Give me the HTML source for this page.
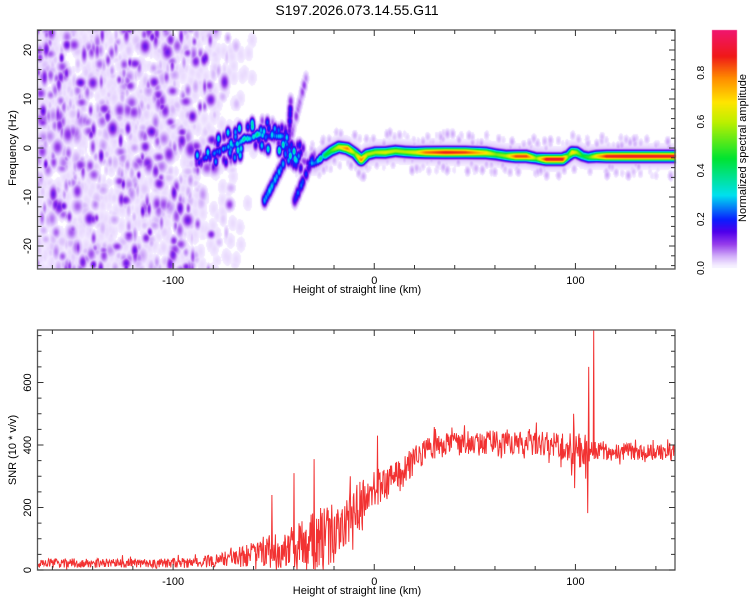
<!DOCTYPE html>
<html><head><meta charset="utf-8"><style>
html,body{margin:0;padding:0;background:#fff;}
#root{position:relative;width:750px;height:600px;font-family:"Liberation Sans",sans-serif;}
canvas,svg{position:absolute;left:0;top:0;}
</style></head><body>
<div id="root">
<canvas id="hm" width="750" height="600"></canvas>
<svg id="sv" width="750" height="600"></svg>
</div>
<script>
// ---- data ----
const ridgeKm=[-88,-85,-82,-78,-75,-72,-68,-65,-62,-58,-55,-50,-46,-43,-40,-36,-33,-30,-27,-22,-18,-14,-10,-7,-4,0,5,10,15,20,25,35,45,55,60,65,70,75,80,85,90,93,96,98,100,103,106,110,115,125,135,149];
const ridgeHz=[-3,-2,-1.5,-0.5,0,0.5,1,2,2,3,2.5,2.5,2.5,0,-1,-2.5,-3,-3,-2,-0.5,0.3,0,-1,-2.3,-1.2,-0.8,-0.8,-0.5,-0.7,-0.8,-0.8,-0.8,-0.8,-0.9,-1.2,-1.5,-1.6,-1.6,-2.0,-2.2,-2.2,-2.2,-1.5,-0.8,-0.8,-1.5,-1.8,-1.6,-1.6,-1.6,-1.6,-1.6];
const ridgeAmp=[0.15,0.3,0.2,0.3,0.25,0.35,0.3,0.4,0.3,0.4,0.25,0.25,0.3,0.2,0.05,0.1,0.25,0.3,0.4,0.5,0.65,0.8,0.55,0.8,0.6,0.6,0.65,0.6,0.6,0.65,0.8,0.88,0.85,0.7,0.55,0.6,0.85,0.85,0.55,0.9,0.9,0.9,0.5,0.7,0.6,0.45,0.5,0.7,0.88,0.9,0.9,0.9];
const streakKm0=[-55,-45,-40,-43], streakHz0=[-10.6,-2.5,-10.6,0];
const streakKm1=[-45,-34,-30,-42], streakHz1=[-2.5,15,-1,10];
const streakAmp=[0.22,0.08,0.18,0.14];
const snrKm=[-168,-100,-85,-75,-65,-55,-45,-35,-25,-15,-5,0,5,10,15,20,25,30,40,50,60,70,80,90,95,100,104,110,120,130,140,150];
const snrMean=[22,22,25,35,45,60,60,80,100,150,230,260,270,300,320,350,380,395,405,410,410,410,405,400,395,390,385,385,380,380,375,370];
const snrSpread=[15,15,18,25,35,50,60,90,100,85,70,65,55,50,45,45,40,40,40,40,40,40,40,40,45,60,60,30,28,28,28,28];
const spikeKm=[-51,-40,-30,-20,-12,1.5,99,99.5,106,106.5,109];
const spikeVal=[240,310,355,160,300,430,500,262,182,650,770];
const xTicks=[-160,-140,-120,-100,-80,-60,-40,-20,0,20,40,60,80,100,120,140];
const xLabels=[-100,0,100];
const fLabels=[-20,-10,0,10,20];
const snrLabels=[0,200,400,600];
const cbLabels=[0,0.2,0.4,0.6,0.8];

// ---- scales ----
const X0=37.5,X1=675,KM0=-167.4,KM1=149.5;
const xs=k=>X0+(k-KM0)/(KM1-KM0)*(X1-X0);
const T0=30,T1=269; const fy=f=>148-f*4.9;
const B0=330,B1=570; const sy=v=>570-v*0.3125;
const interp=(ks,vs,k)=>{if(k<=ks[0])return vs[0];for(let i=1;i<ks.length;i++){if(k<=ks[i]){const t=(k-ks[i-1])/(ks[i]-ks[i-1]);return vs[i-1]+t*(vs[i]-vs[i-1]);}}return vs[vs.length-1];};
const h=i=>{const x=Math.sin(i*127.1+311.7)*43758.5453;return x-Math.floor(x);};

const cstops=[[0,255,255,255],[0.02,238,226,255],[0.05,210,175,250],[0.1,150,60,235],[0.15,80,0,235],[0.2,10,30,255],[0.3,0,225,240],[0.45,0,228,50],[0.6,190,240,0],[0.68,255,230,0],[0.78,255,140,0],[0.87,240,25,25],[1,240,20,130]];
function cmap(v){for(let i=1;i<cstops.length;i++){if(v<=cstops[i][0]){const a=cstops[i-1],b=cstops[i],t=(v-a[0])/(b[0]-a[0]);return [a[1]+t*(b[1]-a[1]),a[2]+t*(b[2]-a[2]),a[3]+t*(b[3]-a[3])];}}const l=cstops[cstops.length-1];return [l[1],l[2],l[3]];}

const W=Math.round(X1-X0),H=T1-T0;
const field=new Float32Array(W*H);
function blob(k,f,skm,shz,a){const cx=xs(k)-X0,cy=fy(f)-T0,sx=skm*2.01,syy=shz*4.9;
 const x0=Math.max(0,Math.floor(cx-3*sx)),x1=Math.min(W-1,Math.ceil(cx+3*sx)),y0=Math.max(0,Math.floor(cy-3*syy)),y1=Math.min(H-1,Math.ceil(cy+3*syy));
 for(let y=y0;y<=y1;y++){const dy=(y-cy)/syy;for(let x=x0;x<=x1;x++){const dx=(x-cx)/sx;const v=a*Math.exp(-0.5*(dx*dx+dy*dy));const id=y*W+x;if(v>field[id])field[id]=v;}}}
// background noise
for(let i=0;i<2200;i++){let k=-170+h(i*5+1.37)*115;const p=k<-100?0.85:Math.max(0,0.85*(-55-k)/45);if(h(i*5+2.71)>p*p)continue;
 const f=-25+h(i*5+3.19)*50;const a=0.02+0.12*Math.pow(h(i*5+4.53),3);blob(k,f,0.8+1.2*h(i*5+5.11),0.6+0.6*h(i*7+6.29),a);}
for(let i=0;i<800;i++){const k=-170+h(i*3+9001.3)*110;const p=k<-100?1:Math.max(0,(-55-k)/45);if(h(i*3+9002.7)>p)continue;blob(k,-25+h(i*3+9003.1)*50,2,1.4,0.024);}
// halo around ridge
for(let i=0;i<320;i++){const k=-40+h(i*4+5001.3)*190;const f=interp(ridgeKm,ridgeHz,k)+(h(i*4+5002.7)*2-1)*4;blob(k,f,1.0,0.7,0.02+0.035*h(i*4+5003.1));}
// clumps near early ridge
for(let i=0;i<110;i++){const k=-90+h(i*6+7001.3)*55;const f=interp(ridgeKm,ridgeHz,k)+(h(i*6+7002.7)*2-1)*3;blob(k,f,0.9,0.8,0.08+0.3*Math.pow(h(i*6+7003.1),1.5));}
// ridge
for(let k=ridgeKm[0];k<=ridgeKm[ridgeKm.length-1];k+=0.5){const f=interp(ridgeKm,ridgeHz,k),a=interp(ridgeKm,ridgeAmp,k);
 const j=k<-25?(0.4+0.7*h(Math.round(k*2)*13+77)):1; blob(k,f,k<-25?0.9:1.4,0.65,a*j); blob(k,f,2,1.5,Math.min(0.06,a*0.2));}
// streaks
for(let s=0;s<streakKm0.length;s++){for(let t=0;t<=1;t+=0.04){const k=streakKm0[s]+t*(streakKm1[s]-streakKm0[s]),f=streakHz0[s]+t*(streakHz1[s]-streakHz0[s]);blob(k,f,1.0,0.9,streakAmp[s]*(0.5+0.9*h(s*100+Math.round(t*25))));}}
const cv=document.getElementById('hm'),ctx=cv.getContext('2d');
const img=ctx.createImageData(W,H);
for(let i=0;i<W*H;i++){const v=field[i];let c=v<0.012?[255,255,255]:cmap(Math.min(1,v));img.data[i*4]=c[0];img.data[i*4+1]=c[1];img.data[i*4+2]=c[2];img.data[i*4+3]=255;}
ctx.putImageData(img,Math.round(X0),T0);
for(let y=30;y<268;y++){const v=(268-y)/244;const c=v<0.012?[245,240,255]:cmap(v);ctx.fillStyle=`rgb(${c[0]|0},${c[1]|0},${c[2]|0})`;ctx.fillRect(712,y,25,1);}

// ---- svg ----
const NS='http://www.w3.org/2000/svg',svg=document.getElementById('sv');
function el(tag,attrs,parent){const e=document.createElementNS(NS,tag);for(const a in attrs)e.setAttribute(a,attrs[a]);(parent||svg).appendChild(e);return e;}
function txt(s,x,y,size,rot,anchor){const t=el('text',{x:x,y:y,'font-size':size,'text-anchor':anchor||'middle',fill:'#000'});if(rot)t.setAttribute('transform',`rotate(-90 ${x} ${y})`);t.textContent=s;return t;}
let t=txt('S197.2026.073.14.55.G11',357,15,14);



const pts=[];const vals=[];const kms=[];
for(let k=-167.4;k<=149.5;k+=0.25){let n=h(k*4+1234.5)*2-1;if(h(k*4+99.1)>0.9)n*=1.7;vals.push(Math.max(0,interp(snrKm,snrMean,k)+interp(snrKm,snrSpread,k)*n));kms.push(k);}
for(let s=0;s<spikeKm.length;s++){const i=Math.round((spikeKm[s]+167.4)/0.25);if(i>=0&&i<vals.length)vals[i]=spikeVal[s];}
for(let i=0;i<vals.length;i++)pts.push(xs(kms[i]).toFixed(1)+','+Math.max(B0,sy(vals[i])).toFixed(1));
const clip=el('clipPath',{id:'bc'});el('rect',{x:X0,y:B0,width:X1-X0,height:B1-B0},clip);
let line=el('polyline',{points:pts.join(' '),fill:'none',stroke:'#f23232','stroke-width':1,'clip-path':'url(#bc)'});



function axes(top,bot,name,yTicksArr,yMajor,yfn,yLab,yTitle,yTitleY){
 const g=el('g',{});
 
 
 el('rect',{x:X0,y:top,width:X1-X0,height:bot-top,fill:'none',stroke:'#555','stroke-width':1.3},g);
 xTicks.forEach(k=>{const x=xs(k),L=k%100===0?6:4;el('line',{x1:x,y1:bot,x2:x,y2:bot-L,stroke:'#333'},g);el('line',{x1:x,y1:top,x2:x,y2:top+L,stroke:'#333'},g);});
 yTicksArr.forEach(v=>{const y=yfn(v),L=yMajor(v)?6:4;el('line',{x1:X0,y1:y,x2:X0+L,y2:y,stroke:'#333'},g);el('line',{x1:X1,y1:y,x2:X1-L,y2:y,stroke:'#333'},g);});
 xLabels.forEach(k=>{const tt=txt(String(k),xs(k),bot+15,11);});
 yLab.forEach(v=>{const tt=txt(String(v),31,yfn(v),11,true);});
 const xt=txt('Height of straight line (km)',357,bot+24,11);
 
 
 const yt=txt(yTitle,16,yTitleY,11,true);
 
 
}
const fT=[];for(let f=-24;f<=24;f+=2)fT.push(f);
axes(T0,T1,'spectrogram-axes',fT,v=>v%10===0,fy,fLabels,'Frequency (Hz)',148);
const sT=[];for(let v=0;v<=750;v+=50)sT.push(v);
axes(B0,B1,'snr-axes',sT,v=>v%200===0,sy,snrLabels,'SNR (10 * v/v)',450);
const cb=el('rect',{x:712,y:30,width:25,height:238,fill:'none',stroke:'none'});


cbLabels.forEach(v=>{const tt=txt(v.toFixed(1),704,268-v*244,10,true);});
const ct=txt('Normalized spectral amplitude',746,148,11,true);


</script>
</body></html>
